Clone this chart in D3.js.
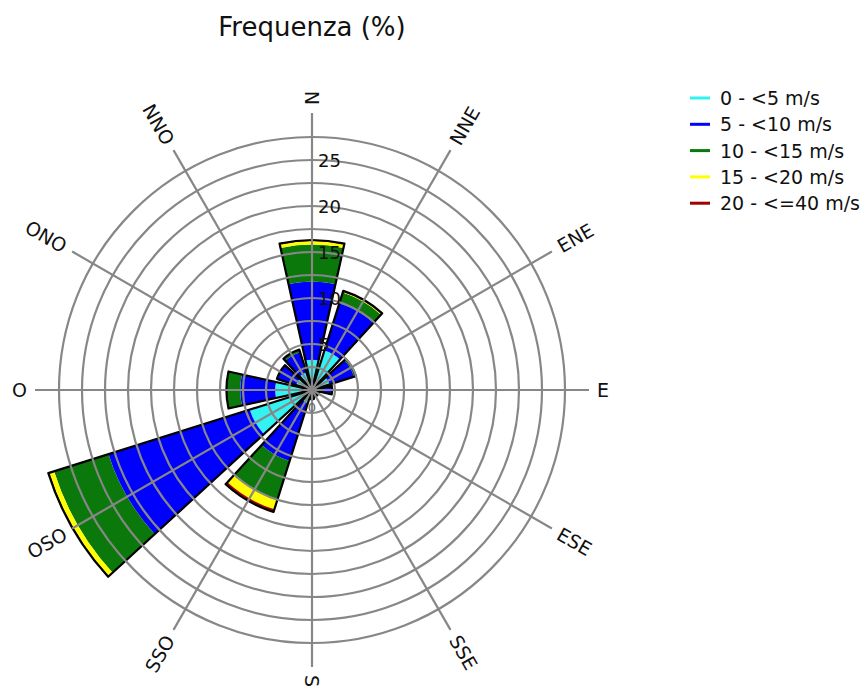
<!DOCTYPE html>
<html>
<head>
<meta charset="utf-8">
<script src="https://cdn.jsdelivr.net/npm/d3@7"></script>
<style>
  body { margin: 0; background: #fff; }
  text { font-family: "DejaVu Sans", Verdana, sans-serif; }
</style>
</head>
<body>
<svg id="chart" width="866" height="690"></svg>
<script>
// Wind directions (Italian compass names) and speed classes
const directions = ["N", "NNE", "ENE", "E", "ESE", "SSE", "S", "SSO", "OSO", "O", "ONO", "NNO"];
const speedBins = ["0 - <5 m/s", "5 - <10 m/s", "10 - <15 m/s", "15 - <20 m/s", "20 - <=40 m/s"];
const binColors = ["#33f2f2", "#0000ff", "#0a780a", "#ffff00", "#a00000"];

// Frequency (%) of each speed class per direction
const freq0to5   = [3.3, 4.5, 2.0, 1.0, 0.5, 0.5, 0.6, 1.5, 7.1, 4.0, 1.8, 2.0];
const freq5to10  = [8.5, 5.4, 2.8, 1.2, 0.3, 0.3, 0.4, 6.6, 16.1, 3.8, 2.2, 2.3];
const freq10to15 = [4.0, 1.2, 0.2, 0.0, 0.0, 0.0, 0.0, 4.4, 6.2, 1.5, 0.0, 0.3];
const freq15to20 = [0.4, 0.1, 0.0, 0.0, 0.0, 0.0, 0.0, 1.1, 0.55, 0.0, 0.0, 0.0];
const freq20to40 = [0.1, 0.1, 0.0, 0.0, 0.0, 0.0, 0.0, 0.3, 0.1, 0.0, 0.0, 0.0];

// Radial grid and labelled ticks
const gridRings = [2.5, 5, 7.5, 10, 12.5, 15, 17.5, 20, 22.5, 25, 27.5];
const radialTicks = ["0", "5", "10", "15", "20", "25"];

const freqByBin = [freq0to5, freq5to10, freq10to15, freq15to20, freq20to40];

const svg = d3.select("#chart");
const cx = 312, cy = 390;
const spokeLen = 277;
const labelRad = 285;

const r = d3.scaleLinear().domain([0, 27.5]).range([0, 253]);
const ang = d3.scaleBand()
  .domain(directions)
  .range([-Math.PI / 12, 2 * Math.PI - Math.PI / 12])
  .paddingInner(1 / 6)
  .paddingOuter(1 / 12);
const mid = d => ang(d) + ang.bandwidth() / 2;

const rows = directions.map((d, i) => {
  const row = { dir: d };
  speedBins.forEach((b, k) => { row[b] = freqByBin[k][i]; });
  return row;
});
const series = d3.stack().keys(speedBins)(rows);

const g = svg.append("g").attr("transform", `translate(${cx},${cy})`);

const arc = d3.arc()
  .innerRadius(d => r(d[0]))
  .outerRadius(d => r(d[1]))
  .startAngle(d => ang(d.data.dir))
  .endAngle(d => ang(d.data.dir) + ang.bandwidth());

// Stacked petals
series.forEach((s, k) => {
  g.append("g").selectAll("path")
    .data(s.filter(d => d[1] > d[0]))
    .join("path")
    .attr("d", arc)
    .attr("fill", binColors[k]);
});

// Black outline of each petal
const total = series[series.length - 1];
g.append("g").selectAll("path")
  .data(total.filter(d => d[1] > 0))
  .join("path")
  .attr("d", d => arc({ 0: 0, 1: d[1], data: d.data }))
  .attr("fill", "none")
  .attr("stroke", "#000")
  .attr("stroke-width", 2.2)
  .attr("stroke-linejoin", "round");

// Grid over the petals
const grid = g.append("g").attr("stroke", "#878787").attr("stroke-width", 2.2).attr("fill", "none");
grid.selectAll("circle")
  .data(gridRings)
  .join("circle")
  .attr("r", d => r(d));
grid.selectAll("line")
  .data(directions)
  .join("line")
  .attr("x1", 0).attr("y1", 0)
  .attr("x2", d => Math.sin(mid(d)) * spokeLen)
  .attr("y2", d => -Math.cos(mid(d)) * spokeLen);

// Radial tick labels along the north axis
g.append("g").selectAll("text")
  .data(radialTicks)
  .join("text")
  .attr("x", d => +d === 0 ? 0 : 6)
  .attr("y", d => +d === 0 ? 17 : -r(+d))
  .attr("text-anchor", d => +d === 0 ? "middle" : "start")
  .attr("dominant-baseline", "central")
  .attr("font-family", "Liberation Sans, Arial, sans-serif")
  .attr("font-size", d => +d === 0 ? 13 : 18)
  .attr("fill", d => +d === 0 ? "#666" : "#111")
  .text(d => d);

// Direction labels, rotated along their spokes
g.append("g").selectAll("text")
  .data(directions)
  .join("text")
  .attr("transform", d => {
    const a = mid(d);
    const deg = ((a * 180 / Math.PI) % 360 + 360) % 360;
    const x = Math.sin(a) * labelRad, y = -Math.cos(a) * labelRad;
    const rot = deg <= 180 ? deg - 90 : deg - 270;
    return `translate(${x},${y}) rotate(${rot})`;
  })
  .attr("text-anchor", d => {
    const deg = ((mid(d) * 180 / Math.PI) % 360 + 360) % 360;
    return deg <= 180 ? "start" : "end";
  })
  .attr("dominant-baseline", "central")
  .attr("font-size", 19)
  .attr("fill", "#111")
  .text(d => d);

// Title
svg.append("text")
  .attr("x", 312).attr("y", 36)
  .attr("text-anchor", "middle")
  .attr("font-size", 26)
  .attr("fill", "#111")
  .text("Frequenza (%)");

// Legend
const legend = svg.append("g").attr("transform", "translate(690,98)");
const item = legend.selectAll("g")
  .data(speedBins)
  .join("g")
  .attr("transform", (d, i) => `translate(0,${i * 26.3})`);
item.append("line")
  .attr("x1", 0).attr("x2", 20)
  .attr("stroke", (d, i) => binColors[i])
  .attr("stroke-width", 3);
item.append("text")
  .attr("x", 30)
  .attr("dominant-baseline", "central")
  .attr("font-size", 19)
  .attr("fill", "#111")
  .text(d => d);
</script>
</body>
</html>
